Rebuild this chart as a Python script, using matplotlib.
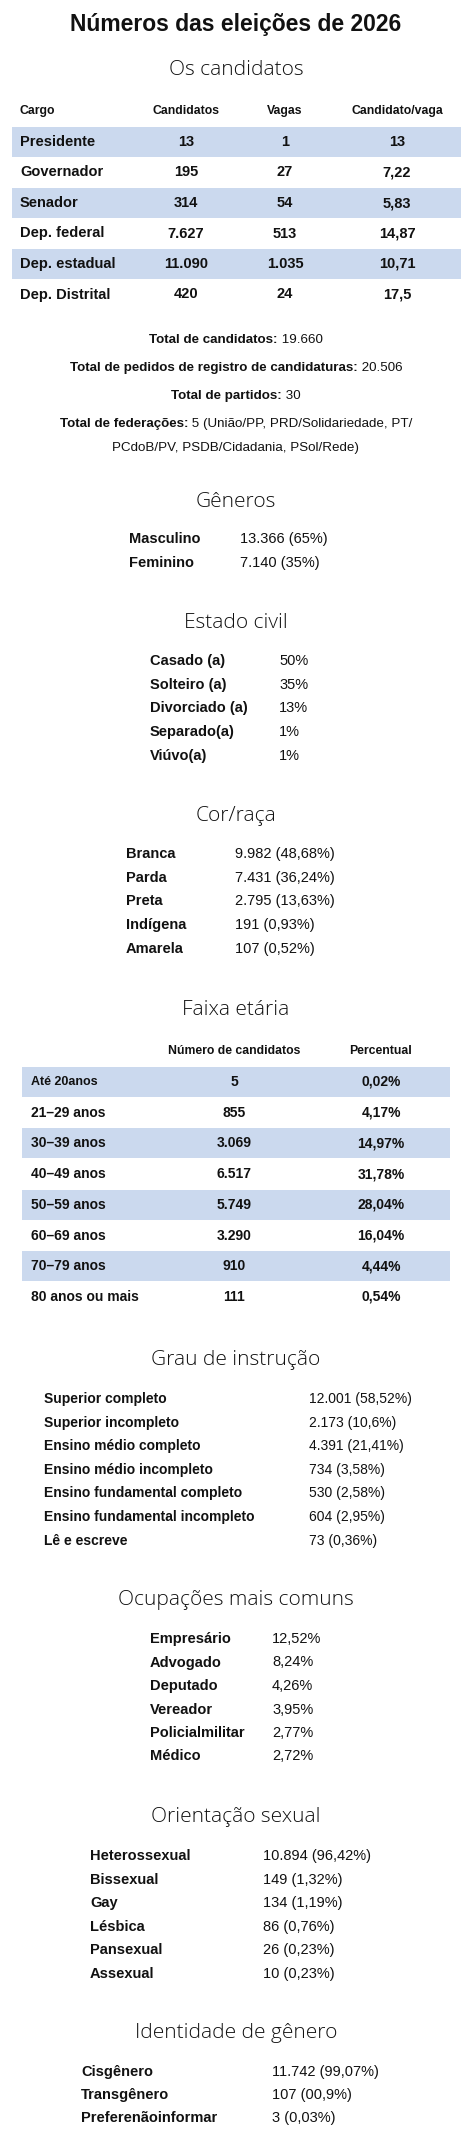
import matplotlib
matplotlib.use("Agg")
import matplotlib.pyplot as plt
from matplotlib.patches import Rectangle

W, H = 472, 2137
BAND = "#cbd9ee"
INK = "#111111"
FAM = ["Liberation Sans", "DejaVu Sans"]
TFAM = ["Open Sans", "DejaVu Sans"]

# ── Data ──────────────────────────────────────────────────────────────────
cargo_header = ["Cargo", "Candidatos", "Vagas", "Candidato/vaga"]
cargos = ["Presidente", "Governador", "Senador", "Dep. federal", "Dep. estadual", "Dep. Distrital"]
cand = ["13", "195", "314", "7.627", "11.090", "420"]
vagas = ["1", "27", "54", "513", "1.035", "24"]
cand_vaga = ["13", "7,22", "5,83", "14,87", "10,71", "17,5"]

totais_lbl = ["Total de candidatos:", "Total de pedidos de registro de candidaturas:",
              "Total de partidos:", "Total de federações:", ""]
totais_val = [" 19.660", " 20.506", " 30", " 5 (União/PP, PRD/Solidariedade, PT/",
              "PCdoB/PV, PSDB/Cidadania, PSol/Rede)"]

generos = ["Masculino", "Feminino"]
generos_val = ["13.366 (65%)", "7.140 (35%)"]

estado_civil = ["Casado (a)", "Solteiro (a)", "Divorciado (a)", "Separado(a)", "Viúvo(a)"]
estado_civil_val = ["50%", "35%", "13%", "1%", "1%"]

cor_raca = ["Branca", "Parda", "Preta", "Indígena", "Amarela"]
cor_raca_val = ["9.982 (48,68%)", "7.431 (36,24%)", "2.795 (13,63%)", "191 (0,93%)", "107 (0,52%)"]

faixa_header = ["Número de candidatos", "Percentual"]
faixas = ["Até 20anos", "21–29 anos", "30–39 anos", "40–49 anos", "50–59 anos",
          "60–69 anos", "70–79 anos", "80 anos ou mais"]
faixa_n = ["5", "855", "3.069", "6.517", "5.749", "3.290", "910", "111"]
faixa_pct = ["0,02%", "4,17%", "14,97%", "31,78%", "28,04%", "16,04%", "4,44%", "0,54%"]

instrucao = ["Superior completo", "Superior incompleto", "Ensino médio completo",
             "Ensino médio incompleto", "Ensino fundamental completo",
             "Ensino fundamental incompleto", "Lê e escreve"]
instrucao_val = ["12.001 (58,52%)", "2.173 (10,6%)", "4.391 (21,41%)", "734 (3,58%)",
                 "530 (2,58%)", "604 (2,95%)", "73 (0,36%)"]

ocupacoes = ["Empresário", "Advogado", "Deputado", "Vereador", "Policialmilitar", "Médico"]
ocupacoes_val = ["12,52%", "8,24%", "4,26%", "3,95%", "2,77%", "2,72%"]

orientacao = ["Heterossexual", "Bissexual", "Gay", "Lésbica", "Pansexual", "Assexual"]
orientacao_val = ["10.894 (96,42%)", "149 (1,32%)", "134 (1,19%)", "86 (0,76%)",
                  "26 (0,23%)", "10 (0,23%)"]

identidade = ["Cisgênero", "Transgênero", "Preferenãoinformar"]
identidade_val = ["11.742 (99,07%)", "107 (00,9%)", "3 (0,03%)"]

# ── Figure ────────────────────────────────────────────────────────────────
fig = plt.figure(figsize=(W / 100, H / 100), dpi=100)
ax = fig.add_axes([0, 0, 1, 1])
ax.set_xlim(0, W)
ax.set_ylim(H, 0)
ax.axis("off")
renderer = fig.canvas.get_renderer()


def txt(x, y, s, size=10.5, bold=True, ha="left", fam=FAM, weight=None):
    return ax.text(x, y, s, fontsize=size, ha=ha, va="center", family=fam,
                   fontweight=weight or ("bold" if bold else "normal"), color=INK)


def section(y, s):
    txt(W / 2, y, s, size=15, ha="center", fam=TFAM, weight="light")


def kv(labels, vals, y0, step, xl, xv, size=10.5):
    for i, (l, v) in enumerate(zip(labels, vals)):
        txt(xl, y0 + i * step, l, size=size)
        txt(xv, y0 + i * step, v, size=size, bold=False)


def centered_pair(y, bold_part, plain_part, size=9.6):
    # measure both parts, then place them side by side around the centre
    a = txt(0, y, bold_part, size=size)
    b = txt(0, y, plain_part, size=size, bold=False)
    wa = a.get_window_extent(renderer).width
    wb = b.get_window_extent(renderer).width if plain_part else 0
    x0 = W / 2 - (wa + wb) / 2
    a.set_x(x0)
    b.set_x(x0 + wa)


txt(W / 2, 25, "Números das eleições de 2026", size=16.5, ha="center")
section(70, "Os candidatos")

# Cargo table
cx = [20, 186, 285, 397]
for j, h in enumerate(cargo_header):
    txt(cx[j], 111, h, size=8.8, ha="left" if j == 0 else "center")
for i, c in enumerate(cargos):
    y = 142 + i * 30.5
    if i % 2 == 0:
        ax.add_patch(Rectangle((12, y - 15), 449, 30, color=BAND, lw=0))
    txt(cx[0], y, c, size=10.5)
    for j, col in enumerate([cand, vagas, cand_vaga], start=1):
        txt(cx[j], y, col[i], size=10.5, ha="center")

for i, (l, v) in enumerate(zip(totais_lbl, totais_val)):
    y = 340 + i * 28 if i < 4 else 448
    centered_pair(y, l, v)

section(502, "Gêneros")
kv(generos, generos_val, 539, 24, 129, 240)

section(623, "Estado civil")
kv(estado_civil, estado_civil_val, 661, 23.7, 150, 279)

section(816, "Cor/raça")
kv(cor_raca, cor_raca_val, 854, 23.7, 126, 235)

section(1010, "Faixa etária")
txt(234, 1051, faixa_header[0], size=8.8, ha="center")
txt(381, 1051, faixa_header[1], size=8.8, ha="center")
for i, f in enumerate(faixas):
    y = 1082 + i * 30.7
    if i % 2 == 0:
        ax.add_patch(Rectangle((22, y - 15), 428, 30, color=BAND, lw=0))
    txt(31, y, f, size=10 if i else 9)
    txt(234, y, faixa_n[i], size=10, ha="center")
    txt(381, y, faixa_pct[i], size=10, ha="center")

section(1360, "Grau de instrução")
kv(instrucao, instrucao_val, 1399, 23.6, 44, 309, size=10)

section(1600, "Ocupações mais comuns")
kv(ocupacoes, ocupacoes_val, 1639, 23.5, 150, 272)

section(1817, "Orientação sexual")
kv(orientacao, orientacao_val, 1856, 23.6, 90, 263)

section(2033, "Identidade de gênero")
kv(identidade, identidade_val, 2072, 23.2, 81, 272)

fig.savefig("out.png", dpi=100)
